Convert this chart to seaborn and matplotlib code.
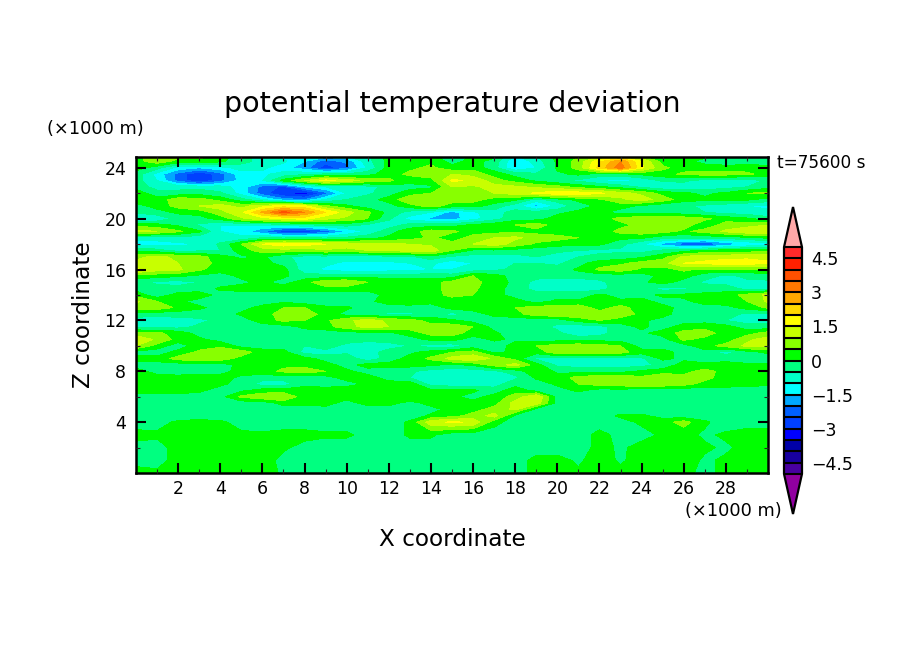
import numpy as np
import matplotlib
matplotlib.use('Agg')
import matplotlib.pyplot as plt
import seaborn as sns

# x and z coordinates in km, half km steps above 4 km
x_km = np.arange(0, 31)
z_km = np.concatenate(([0, 1, 2, 3], np.arange(4, 25.5, 0.5)))

# potential temperature deviation, one list per height
z00_0 = [.2,.1,.2,.3,.3,.3,.3,-.1,-.3,-.3,-.3,-.3,-.3,-.3,-.3,-.3,-.3,-.3,-.3,.2,.2,.1,.2,.2,.3,.3,.2,-.2,.2,.3,.3]
z01_0 = [-.2,-.2,.2,.3,.3,.3,.3,-.2,-.3,-.3,-.3,-.3,-.3,-.3,-.3,-.3,-.3,-.3,-.3,.2,.2,-.1,.3,-.1,.3,.3,.3,-.1,.1,.3,.3]
z02_0 = [-.2,-.2,.2,.3,.3,.2,.3,.1,-.2,-.3,-.3,-.3,-.3,-.3,-.3,-.3,-.3,-.3,-.3,-.3,-.3,-.3,.2,-.1,.2,.3,.3,.1,-.1,.2,.3]
z03_0 = [.2,.1,.1,.2,.2,.1,.1,.2,.2,.1,.1,-.2,-.3,.1,.1,-.3,-.3,-.3,-.3,-.3,-.3,-.3,.2,-.2,-.2,.1,.2,-.1,.1,.3,.3]
z04_0 = [-.3,-.2,.1,.2,.1,-.2,-.3,-.3,-.3,-.3,-.3,-.3,-.3,.1,1.3,1.6,1.4,.2,-.3,-.3,-.3,-.3,-.3,-.2,.1,.3,.7,.1,-.3,-.3,-.3]
z04_5 = [-.3,-.3,-.3,-.3,-.3,-.3,-.3,-.3,-.3,-.3,-.3,-.3,-.3,-.3,.1,.3,.7,1.2,-.1,-.3,-.3,-.3,-.3,.1,.1,-.2,-.3,-.3,-.3,-.3,-.3]
z05_0 = [-.3,-.3,-.3,-.3,-.3,-.3,-.3,-.3,-.2,-.2,-.3,-.3,-.3,-.3,-.2,.2,.3,.7,1.1,-.2,-.3,-.3,-.3,-.3,-.3,-.3,-.3,-.3,-.3,-.3,-.3]
z05_5 = [-.3,-.3,-.3,-.3,-.3,-.3,-.3,.2,.1,.2,-.2,.2,.2,-.2,.2,.2,.2,.3,1.2,1.3,-.2,-.3,-.3,-.3,-.3,-.3,-.3,-.3,-.3,-.3,-.3]
z06_0 = [-.2,-.2,-.2,-.2,-.2,.6,.9,1.0,.2,.1,.2,.3,.3,.5,.2,.1,-.2,.2,.7,1.5,-.2,-.3,-.3,-.3,-.3,-.3,-.3,-.3,-.3,-.3,-.3]
z06_5 = [.2,.2,.2,.1,-.2,-.1,.2,.2,.3,.2,.3,.2,.3,.3,.1,.1,.1,-.3,.3,-.2,-.2,.1,-.2,-.2,-.3,-.3,-.3,-.3,-.3,-.3,-.3]
z07_0 = [.2,.3,.2,.3,.1,-.2,-.7,-.7,-.2,-.2,-.2,.1,.2,.3,-.7,-.8,-.8,-.7,-.2,-.3,.1,.5,.7,.8,1.0,.9,.7,.3,.3,.2,.1]
z07_5 = [.2,.2,.2,.3,.2,-.1,-.3,-.3,-.3,-.2,.2,.2,-.2,-.5,-.8,-.9,-.9,-.8,-.6,.1,.2,.7,.8,.9,.6,1.0,.7,.7,.2,.2,.2]
z08_0 = [.2,-.2,-.3,-.3,-.2,.2,.3,.6,.8,.5,.1,-.2,-.3,-.4,-.7,-.8,-.8,-.6,-.3,.4,-.1,-.2,-.2,-.2,.1,.2,.3,.7,.3,.2,.1]
z08_5 = [-.2,-.2,-.3,-.3,-.3,.2,.3,.4,.3,.2,-.2,.2,.2,.2,.1,-.1,.1,.7,1.2,.2,-.6,-.7,-.7,-.7,-.7,-.3,.2,.1,.2,.1,.1]
z09_0 = [.2,.2,.7,.9,.8,.3,.2,.2,.2,-.2,-.2,-.8,-.3,.2,.6,1.2,1.4,.9,.3,-.6,-.7,-.8,-.8,-.7,-.6,.1,-.1,-.2,-.2,-.3,-.3]
z09_5 = [-.2,-.3,.2,.6,.8,.8,.2,.2,-.7,-.7,-.6,-.8,-.2,-.1,.2,.5,.7,-.1,.1,.2,.8,.8,.8,.7,.2,.2,-.2,-.2,-.7,-.2,.1]
z10_0 = [1.0,.3,-.3,.3,.4,-.2,-.2,-.2,-.5,-.2,-.7,-.9,-.8,-.5,-.7,-.8,-.3,-.3,.2,.5,.7,.8,.7,.5,-.2,-.2,-.2,.3,.7,1.1,1.2]
z10_5 = [1.4,.9,.3,.1,-.2,-.2,-.2,-.2,-.2,-.2,-.2,-.3,-.2,-.2,.1,.2,-.3,.1,-.1,-.3,-.2,-.2,-.2,-.2,-.3,-.2,.6,.3,.2,.9,1.2]
z11_0 = [.7,.6,.3,-.2,-.3,-.5,-.2,-.2,-.2,-.3,-.2,-.2,-.1,.2,.7,.7,.3,.1,-.3,-.3,-.4,-.8,-.7,-.2,-.1,.2,.7,.8,.2,.3,.7]
z11_5 = [-.7,-.7,-.7,-.4,-.3,-.3,-.3,-.2,.1,.3,.8,1.2,1.0,.8,.7,.8,.5,-.2,-.2,-.3,-.6,-.8,-.7,-.2,.1,-.2,.2,.3,.2,-.3,-.3]
z12_0 = [-.8,-.8,-.7,-.6,-.4,-.3,.3,.6,.5,.4,.9,1.2,.9,.7,.3,.1,-.2,-.3,-.3,-.3,-.3,.2,.5,.2,.1,-.2,-.2,-.2,-.5,-.7,-.7]
z12_5 = [-.2,-.3,-.3,-.3,-.3,.1,.2,.8,.8,.3,-.2,-.3,-.6,-.6,-.3,-.7,-.3,.2,.3,.8,.9,.9,.7,.9,.3,.2,-.3,-.3,-.3,-.6,-.7]
z13_0 = [.8,.8,.4,.1,-.2,-.2,.2,.5,.5,.1,.1,-.3,-.2,-.2,-.3,.2,.3,.4,.5,.7,.7,.8,.3,.7,.2,.2,-.2,-.2,-.2,.2,.6]
z13_5 = [1.1,.5,.1,-.2,-.3,-.3,-.3,-.1,-.3,-.3,-.3,-.1,.2,.3,.2,.1,.2,.2,.2,-.2,.1,.1,.1,.1,.2,-.2,-.1,.2,.3,.5,1.1]
z14_0 = [.3,-.3,.2,.3,-.2,-.3,-.3,-.3,-.3,-.3,-.3,-.3,.2,.3,.2,.7,.5,.2,-.2,-.3,-.2,-.3,.1,-.2,-.2,.1,.1,.1,.2,.7,1.1]
z14_5 = [-.2,-.3,-.3,-.3,.1,.2,.3,.3,.3,.3,.3,.2,.1,.2,.2,.8,.6,.2,-.2,-.7,-.7,-.7,-.7,-.2,-.2,-.7,-.6,-.2,-.2,-.7,-.6]
z15_0 = [-.3,-.6,-.7,-.5,-.3,-.1,.1,-.2,.3,.9,.9,.5,.5,.5,.3,.7,.7,.2,-.1,-.7,-.8,-.8,-.6,-.3,-.1,.2,-.2,-.6,-.7,-.6,-.6]
z15_5 = [.3,.2,.1,-.1,-.2,.1,.2,.1,-.3,-.3,-.2,-.2,-.3,-.3,-.2,-.3,.5,.2,-.2,-.3,-.3,-.3,-.3,-.3,-.3,.2,.2,-.3,-.6,-.4,-.3]
z16_0 = [1.6,1.2,1.1,.6,.2,.2,.3,.2,-.8,-1.1,-1.3,-1.4,-1.2,-1.2,-1.0,-1.0,-.8,-.6,-.4,-.4,-.3,.1,.6,.8,.4,.3,.6,.4,.4,.4,.5]
z16_5 = [1.1,1.1,1.0,.9,.2,.2,.2,-.2,-.7,-.9,-1.1,-1.1,-1.1,-1.0,-.9,-1.3,-1.0,-.7,-.5,-.5,-.6,-.2,.3,.4,.7,.8,1.5,1.6,1.8,1.7,1.6]
z17_0 = [.9,1.1,.9,.7,.2,-.1,.1,-.4,-.7,-.7,-.8,-.8,-.7,-.6,-.2,-.6,-.7,-.7,-.7,-.5,-.7,-.5,-.4,-.3,-.1,.3,1.1,1.3,1.3,1.4,1.3]
z17_5 = [-.2,-.3,-.7,-.6,-.5,.3,.7,.8,.7,.9,.8,1.0,1.1,1.2,1.3,.5,-.1,-.1,-.2,-.3,-.4,-.5,-.6,-.6,-.7,-.4,-.2,.1,.2,.2,.3]
z18_0 = [-1.2,-1.2,-1.1,-1.0,-.4,.5,1.5,1.8,1.7,1.5,1.3,1.2,1.1,1.0,.9,.7,1.0,1.3,.8,.4,.2,.1,.1,-.3,-1.0,-1.7,-2.4,-2.7,-1.9,-1.5,-1.2]
z18_5 = [-.8,-.8,-.7,-.8,-.9,-.9,-.5,-.6,-.5,-.6,-.4,-.2,.1,.3,.6,.2,.7,1.0,1.1,.8,.7,.5,.2,.1,.1,-.3,-.4,-.3,-.3,-.1,.1]
z19_0 = [1.2,1.0,.6,.1,-1.0,-1.2,-2.0,-2.8,-2.9,-2.3,-1.5,-.9,-.2,.3,.7,.6,.3,.3,.4,.3,.2,.1,.1,.7,.8,.7,.4,.7,1.1,1.4,1.5]
z19_5 = [.3,.2,-.1,-.6,-1.0,-1.0,-.9,-.8,-.6,-.4,-.3,-.6,-.8,-.3,-.2,-.2,.1,.3,.5,.8,.2,.3,.2,.3,.7,.8,.7,.2,.7,.8,1.0]
z20_0 = [-1.2,-.9,-.3,-.2,.2,.9,1.3,1.5,1.7,1.1,.9,.5,-.4,-1.2,-1.6,-1.7,-1.2,-.7,-.2,-.2,.2,.3,.2,.7,.8,.8,.8,.6,.3,.1,-.3]
z20_5 = [-.4,-.2,.1,.2,.8,1.4,2.6,3.7,3.0,2.0,1.2,.6,-.2,-.7,-1.0,-1.7,-1.1,-.7,-.3,-.3,-.1,.1,.1,-.2,-.2,-.2,-.3,-.5,-.7,-.8,-.9]
z21_0 = [-.2,.2,.7,1.0,1.2,.8,1.3,1.7,1.6,.6,.1,-.3,-.2,.3,.7,.3,.2,-.2,-.8,-1.7,-.9,-.2,.1,.2,-.1,-.4,-.4,-.6,-.8,-1.0,-1.1]
z21_5 = [.3,.2,.8,.7,.3,-.3,-1.0,-1.8,-2.0,-1.0,-.5,-.2,.2,.9,.9,.7,.7,.3,.1,-.7,-.2,.1,.4,.9,1.2,.8,.2,.1,.2,.1,-.2]
z22_0 = [.3,-.3,-.3,-.2,-.4,-1.2,-2.3,-3.0,-3.3,-2.2,-1.0,-.6,-.2,.3,.5,.8,.9,1.0,1.2,1.6,1.8,1.8,1.6,1.2,.9,.3,.1,-.1,.1,.5,.6]
z22_5 = [-.2,-.7,-.7,-.7,-.8,-1.2,-2.2,-2.6,-1.5,-1.0,-.9,-.7,-.3,-.2,-.1,1.0,.9,1.2,1.1,.9,.7,.3,.1,-.2,-.6,-.9,-.8,-.8,-.7,-.5,-.2]
z23_0 = [-.3,-1.0,-2.2,-3.0,-2.2,-1.3,-1.0,.2,1.0,1.7,1.3,.8,.6,.2,.3,1.6,1.4,.7,.3,-.1,-.4,-.6,-1.0,-1.2,-.9,-.4,-.4,-.7,-.8,-.8,-.4]
z23_5 = [-.2,-1.2,-2.2,-3.0,-2.2,-1.2,-1.1,-.8,-.6,-.4,-.4,-.2,.3,.6,.8,1.0,.8,.3,-.2,-.4,-.1,.1,-.2,-.2,.1,.3,.6,.7,.7,.6,.3]
z24_0 = [.2,-.3,-1.2,-1.5,-1.2,-.8,-.9,-1.3,-1.8,-2.8,-2.2,-.9,.2,.4,.6,.2,.3,-.3,-1.5,-1.0,.1,.7,2.2,3.3,1.6,.6,.3,.3,.2,.3,.2]
z24_5 = [.3,.8,.3,.3,.1,-.3,-.7,-.9,-1.5,-2.3,-1.9,-.7,.2,.3,.4,-.2,.2,-.2,-1.5,-.8,.1,.7,1.9,3.0,1.5,.3,.2,-.2,-.3,-.3,-.3]
z25_0 = [.3,1.0,.8,.8,.3,-.3,-.8,-1.2,-1.2,-1.0,-.9,-.6,.2,.3,.3,-1.0,.2,.2,-1.0,-.5,.2,.4,.7,.9,.3,.3,.3,.2,-.3,-.3,-.3]

levels = np.arange(-5, 5.5, 0.5)
box_colors = ['#4800a0', '#1800a0', '#0000a8', '#0000ff', '#0040ff', '#0060ff', '#00a8ff',
              '#00ffff', '#00ffc8', '#00ff80', '#00ff00', '#88ff00', '#c8ff00', '#ffff00',
              '#ffd800', '#ffa800', '#ff7800', '#ff5000', '#ff2000', '#ff2a2a']
under_color = '#9000a0'
over_color = '#ffa8a8'
bar_ticks = [-4.5, -3, -1.5, 0, 1.5, 3, 4.5]

sns.set_theme(style='white', rc={'font.family': 'DejaVu Sans', 'axes.linewidth': 1.8,
                                 'axes.edgecolor': 'black', 'axes.axisbelow': False})

W, H = 904, 654
fig = plt.figure(figsize=(W / 100, H / 100), dpi=100, facecolor='white')

def px_text(x, y, s, **kw):
    fig.text(x / W, 1 - y / H, s, color='black', **kw)

ax = fig.add_axes([136 / W, (H - 473) / H, 632 / W, 316 / H])
theta = np.array([z00_0, z01_0, z02_0, z03_0, z04_0, z04_5, z05_0, z05_5, z06_0, z06_5, z07_0, z07_5,
                  z08_0, z08_5, z09_0, z09_5, z10_0, z10_5, z11_0, z11_5, z12_0, z12_5, z13_0, z13_5,
                  z14_0, z14_5, z15_0, z15_5, z16_0, z16_5, z17_0, z17_5, z18_0, z18_5, z19_0, z19_5,
                  z20_0, z20_5, z21_0, z21_5, z22_0, z22_5, z23_0, z23_5, z24_0, z24_5, z25_0])
cs = ax.contourf(x_km, z_km, theta, levels=levels, colors=sns.color_palette(box_colors),
                 extend='both')
cs.cmap.set_under(under_color)
cs.cmap.set_over(over_color)
cs.changed()
ax.set_xlim(0, 30)
ax.set_ylim(0, 24.85)
ax.set_axisbelow(False)

ax.set_xticks(np.arange(2, 30, 2))
ax.set_xticks(np.arange(1, 30, 2), minor=True)
ax.set_yticks(np.arange(4, 25, 4))
ax.set_yticks(np.arange(2, 25, 4), minor=True)
ax.tick_params(which='major', direction='in', length=7.2, width=1.5, bottom=True, left=True,
               top=True, right=True, labelsize=12.5, colors='black')
ax.tick_params(which='minor', direction='in', length=3, width=0.8, bottom=True, left=True,
               top=True, right=True)
ax.tick_params(axis='x', which='major', pad=5)
ax.tick_params(axis='y', which='major', pad=7)

cax = fig.add_axes([784 / W, (H - 514) / H, 18 / W, 307 / H])
cb = fig.colorbar(cs, cax=cax, extend='both', extendfrac=0.177, drawedges=True, ticks=bar_ticks)
cb.outline.set_linewidth(1.6)
cb.dividers.set_color('black')
cb.dividers.set_linewidth(1.5)
cb.ax.tick_params(length=0, labelsize=12.5, pad=6.5, colors='black')
cb.ax.set_yticklabels(['\u22124.5', '\u22123', '\u22121.5', '0', '1.5', '3', '4.5'])

px_text(452, 104, 'potential temperature deviation', fontsize=20.5, ha='center', va='center')
px_text(452, 539, 'X coordinate', fontsize=16.7, ha='center', va='center')
px_text(83, 315, 'Z coordinate', fontsize=16.7, ha='center', va='center', rotation=90)
px_text(95, 129, '(\u00d71000 m)', fontsize=12.8, ha='center', va='center')
px_text(733, 511, '(\u00d71000 m)', fontsize=12.8, ha='center', va='center')
px_text(777, 163, 't=75600 s', fontsize=12.2, ha='left', va='center')

fig.savefig('out.png', dpi=100)
